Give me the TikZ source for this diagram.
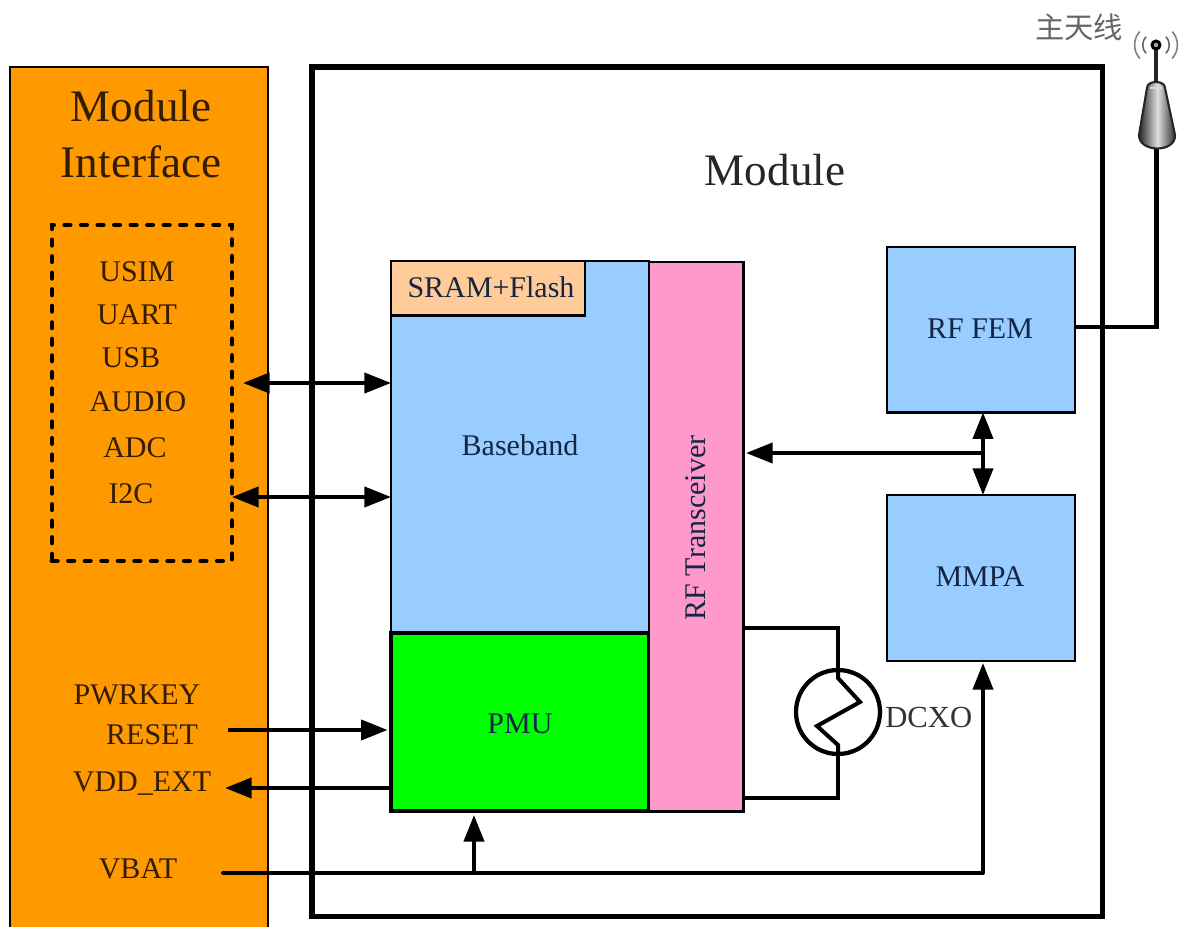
\documentclass[tikz,border=0pt]{standalone}
\usepackage{fontspec}
\setmainfont{Liberation Serif}
\newfontfamily\cjk{Noto Sans CJK SC}
\usetikzlibrary{arrows.meta,calc}
\definecolor{txtbrown}{HTML}{331C04}
\definecolor{txtblue}{HTML}{142644}
\definecolor{bluebox}{HTML}{99CCFF}
\definecolor{panelorange}{HTML}{FF9900}
\definecolor{memorange}{HTML}{FFCC99}
\definecolor{pmugreen}{HTML}{00FF00}
\definecolor{rfpink}{HTML}{FF99CC}
\tikzset{
  block/.style={draw=black,line width=2.2pt,outer sep=0pt,inner sep=0pt,anchor=north west},
  lbl/.style={font=\fontsize{22.5pt}{24pt}\selectfont,inner sep=0pt,text=txtbrown},
  big/.style={font=\fontsize{33.8pt}{36pt}\selectfont,inner sep=0pt,text=txtbrown},
  inlbl/.style={font=\fontsize{22.5pt}{24pt}\selectfont,inner sep=0pt,text=txtblue},
  wire/.style={line width=3pt,draw=black},
  sarrow/.style={wire,-{Triangle[length=20pt,width=15pt]}},
  darrow/.style={wire,{Triangle[length=20pt,width=15pt]}-{Triangle[length=20pt,width=15pt]}},
  corner/.style={line join=miter}
}
\begin{document}
\begin{tikzpicture}[x=0.75pt,y=-0.75pt]
\useasboundingbox (0,0) rectangle (1183,927);
\fill[white] (0,0) rectangle (1183,927);
% panels
\node[block,fill=panelorange,minimum width=193.5pt,minimum height=705pt] (panel) at (10,67) {};
\node[block,line width=3.8pt,minimum width=593pt,minimum height=637pt] (module) at (312,67) {};
\node[draw=black,line width=3.6pt,line cap=round,dash pattern=on 4pt off 8.4pt,inner sep=0pt,outer sep=0pt,anchor=north west,minimum width=135pt,minimum height=252pt] (group) at (52,225) {};
% blocks
\node[block,fill=bluebox,minimum width=193.5pt,minimum height=279pt] (baseband) at (391,261) {};
\node[block,fill=memorange,minimum width=145.5pt,minimum height=41pt] (sram) at (391,261) {};
\node[block,fill=pmugreen,line width=2.8pt,minimum width=193.5pt,minimum height=133.5pt] (pmu) at (391,633) {};
\node[block,fill=rfpink,minimum width=71pt,minimum height=412pt] (rf) at (649,262) {};
\node[block,fill=bluebox,minimum width=141pt,minimum height=124pt] (fem) at (887,247) {};
\node[block,fill=bluebox,minimum width=141pt,minimum height=124.5pt] (mmpa) at (887,495) {};
\node[draw=black,line width=3.2pt,circle,minimum size=63pt,inner sep=0pt,outer sep=0pt] (dcxo) at (838,712) {};
% texts
\node[big] (t1) at (141,106) {Module};
\node[big] (t2) at (141,162) {Interface};
\node[big,text=black!85] (t3) at (775,170) {Module};
\node[lbl] (usim) at (137,272) {USIM};
\node[lbl] (uart) at (137,315) {UART};
\node[lbl] (usb) at (131,358) {USB};
\node[lbl] (audio) at (138,402) {AUDIO};
\node[lbl] (adc) at (135,448) {ADC};
\node[lbl] (i2c) at (131,494) {I2C};
\node[lbl] (pwr) at (137,695) {PWRKEY};
\node[lbl] (reset) at (152,735) {RESET};
\node[lbl] (vdd) at (142,784) {VDD\_EXT};
\node[lbl] (vbat) at (138,869) {VBAT};
\node[inlbl] (t4) at (491,287) {SRAM+Flash};
\node[inlbl] (t5) at (520,445) {Baseband};
\node[inlbl] (t6) at (520,724) {PMU};
\node[inlbl,rotate=90] (t7) at (696,528) {RF Transceiver};
\node[inlbl] (t8) at (980,329) {RF FEM};
\node[inlbl] (t9) at (980,577) {MMPA};
\node[inlbl,text=black!80,anchor=west,font=\fontsize{23pt}{24pt}\selectfont] (t10) at (885,717) {DCXO};
\node[font=\cjk\fontsize{22pt}{24pt}\selectfont,text=black!60,inner sep=0pt] (ant) at (1079,27) {主天线};
% free ends
\coordinate (e1) at (243,383);
\coordinate (e2) at (232,497);
\coordinate (e3) at (228,730);
\coordinate (e4) at (225,788);
\coordinate (e5) at (223,873);
\coordinate (e6) at (474,873);
\coordinate (e7) at (983,873);
\coordinate (e8) at (983,453);
\coordinate (e9) at (983,412);
\coordinate (e10) at (746,453);
\coordinate (e11) at (1156.5,146);
% connectors
\draw[darrow] (e1) -- (baseband.west |- e1);
\draw[darrow] (e2) -- (baseband.west |- e2);
\draw[sarrow,shorten >=2.5pt] (e3) -- (pmu.west |- e3);
\draw[sarrow] (pmu.west |- e4) -- (e4);
\draw[wire,line cap=round] (e5) -- (e7);
\draw[sarrow,shorten >=1.5pt] (e7) -- (mmpa.south -| e7);
\draw[sarrow,shorten >=3pt] (e6) -- (pmu.south -| e6);
\draw[darrow] (fem.south -| e9) -- (mmpa.north -| e9);
\draw[sarrow] (e8) -- (e10);
\draw[wire,line width=3.6pt,corner] (fem.east |- 0,327) -- (1156.5,327) -- (e11);
% crystal
\draw[wire,corner] (rf.east |- 0,628) -- (838,628) -- (dcxo.north);
\draw[wire,corner] (rf.east |- 0,798) -- (838,798) -- (dcxo.south);
\draw[line width=3pt,line join=miter] (dcxo.north) -- (838,678) -- (860,702) -- (817,726) -- (838,745) -- (dcxo.south);
% antenna
\draw[line width=2.4pt,black!85] (1156,45) -- (1156,84);
\draw[line width=2.2pt,black,fill=black!35] (1156,45) circle (4);
\path[left color=black!85,right color=black!85,middle color=black!12]
  (1147,88) .. controls (1147,80) and (1165,80) .. (1165,88) -- (1175,135)
  .. controls (1176,153) and (1139,153) .. (1139,135) -- cycle;
\draw[line width=1.6pt,black!85,fill=none]
  (1147,88) .. controls (1147,80) and (1165,80) .. (1165,88) -- (1175,135)
  .. controls (1176,153) and (1139,153) .. (1139,135) -- cycle;
\fill[white!85!black] (1150,87) rectangle (1162,89);
\foreach \r/\g in {13/60,21/50}{
  \draw[line width=1.2pt,black!\g] ($(1156,45)+(-\r*0.77,-\r*0.64)$) .. controls ($(1156,45)+(-\r*1.1,-\r*0.3)$) and ($(1156,45)+(-\r*1.1,\r*0.3)$) .. ($(1156,45)+(-\r*0.77,\r*0.64)$);
  \draw[line width=1.2pt,black!\g] ($(1156,45)+(\r*0.77,-\r*0.64)$) .. controls ($(1156,45)+(\r*1.1,-\r*0.3)$) and ($(1156,45)+(\r*1.1,\r*0.3)$) .. ($(1156,45)+(\r*0.77,\r*0.64)$);
}
\end{tikzpicture}
\end{document}
